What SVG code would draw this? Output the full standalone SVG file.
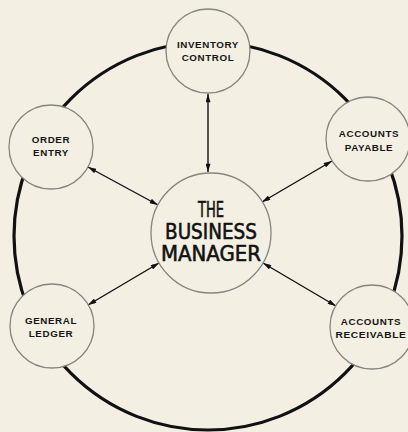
<svg xmlns="http://www.w3.org/2000/svg" width="408" height="432" viewBox="0 0 408 432">
<style>
.bg{fill:#f3efe3}
.ring{fill:none;stroke:#111;stroke-width:3.2}
.node{fill:#f3efe3;stroke:#85857f;stroke-width:1.3}
.lbl{font-family:"Liberation Sans",Arial,sans-serif;font-weight:bold;font-size:9.8px;letter-spacing:0.6px;fill:#161616;text-anchor:middle}
.big{font-family:"DejaVu Sans",sans-serif;font-size:21px;fill:#111;stroke:#111;stroke-width:0.6;text-anchor:middle}
.conn{stroke:#111;stroke-width:1.4;fill:none;marker-start:url(#ah);marker-end:url(#ah)}
</style>
<defs>
<marker id="ah" viewBox="0 0 10 6" refX="10" refY="3" markerWidth="9" markerHeight="5" markerUnits="userSpaceOnUse" orient="auto-start-reverse">
<path d="M0,0 L10,3 L0,6 Z" fill="#111"/>
</marker>
</defs>
<rect class="bg" x="0" y="0" width="408" height="432"/>
<circle class="ring" cx="208" cy="236" r="194"/>
<g id="connectors">
<line class="conn" x1="208" y1="94" x2="208" y2="172"/>
<line class="conn" x1="88" y1="167" x2="158" y2="205"/>
<line class="conn" x1="332" y1="161" x2="262" y2="202"/>
<line class="conn" x1="88" y1="305" x2="159" y2="263"/>
<line class="conn" x1="336" y1="306" x2="263" y2="263"/>
</g>
<g id="inventory">
<circle class="node" cx="208" cy="51" r="42"/>
<text class="lbl" x="208" y="48">INVENTORY</text>
<text class="lbl" x="208" y="61">CONTROL</text>
</g>
<g id="order">
<circle class="node" cx="51" cy="147" r="42"/>
<text class="lbl" x="51" y="143">ORDER</text>
<text class="lbl" x="51" y="156">ENTRY</text>
</g>
<g id="payable">
<circle class="node" cx="368" cy="139" r="42"/>
<text class="lbl" x="369" y="137">ACCOUNTS</text>
<text class="lbl" x="369" y="150.5">PAYABLE</text>
</g>
<g id="ledger">
<circle class="node" cx="52" cy="326" r="42"/>
<text class="lbl" x="51" y="324">GENERAL</text>
<text class="lbl" x="51" y="337">LEDGER</text>
</g>
<g id="receivable">
<circle class="node" cx="372" cy="327" r="42"/>
<text class="lbl" x="371" y="325">ACCOUNTS</text>
<text class="lbl" x="371" y="338" textLength="71" lengthAdjust="spacingAndGlyphs">RECEIVABLE</text>
</g>
<g id="manager">
<circle class="node" cx="211" cy="233" r="60"/>
<text class="big" x="211" y="217" textLength="26" lengthAdjust="spacingAndGlyphs">THE</text>
<text class="big" x="211" y="239" textLength="92" lengthAdjust="spacingAndGlyphs">BUSINESS</text>
<text class="big" x="211" y="261" textLength="100" lengthAdjust="spacingAndGlyphs">MANAGER</text>
</g>
</svg>
